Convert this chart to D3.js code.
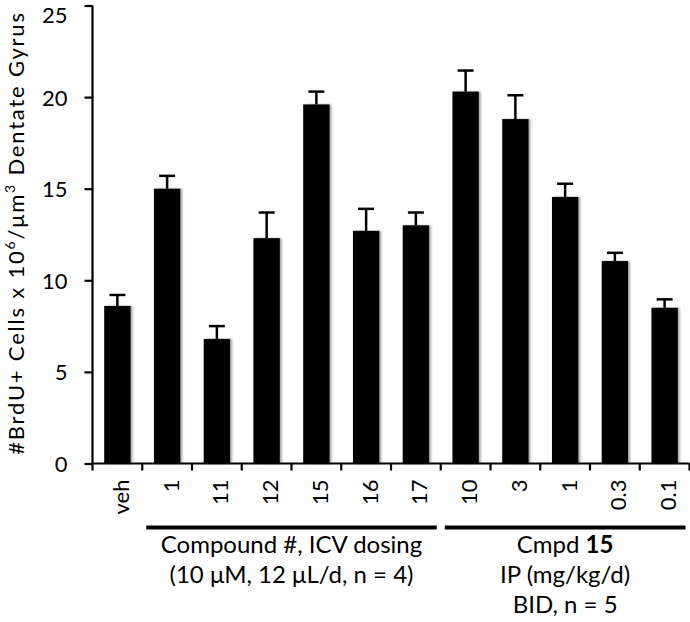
<!DOCTYPE html>
<html>
<head>
<meta charset="utf-8">
<script src="https://cdn.jsdelivr.net/npm/d3@7"></script>
<style>
  body { margin: 0; background: #fff; }
  svg { display: block; font-family: Lato, "Open Sans", sans-serif; }
</style>
</head>
<body>
<svg id="chart" width="690" height="622"></svg>
<script>
const categories = ["veh", "1", "11", "12", "15", "16", "17", "10", "3", "1 ", "0.3", "0.1"];
const tickLabels = ["veh", "1", "11", "12", "15", "16", "17", "10", "3", "1", "0.3", "0.1"];
const values = [8.6, 15.0, 6.8, 12.3, 19.6, 12.7, 13.0, 20.3, 18.8, 14.55, 11.05, 8.5];
const errors = [0.6, 0.7, 0.7, 1.4, 0.7, 1.2, 0.7, 1.15, 1.3, 0.72, 0.45, 0.46];
const yTicks = [0, 5, 10, 15, 20, 25];
const groups = [
  { from: "1", to: "17", lines: [["Compound #, ICV dosing"], ["(10 \u03bcM, 12 \u03bcL/d, n = 4)"]] },
  { from: "10", to: "0.1", lines: [["Cmpd ", "15"], ["IP (mg/kg/d)"], ["BID, n = 5"]] }
];

const svg = d3.select("#chart");
const x0 = 92.5, x1 = 689.5, yTop = 5.5, yBot = 463.5;

const x = d3.scaleBand().domain(categories).range([x0, x1]).paddingInner(0.47).paddingOuter(0.235);
const y = d3.scaleLinear().domain([0, 25]).range([yBot, yTop]);

// shadow filter
const defs = svg.append("defs");
const f = defs.append("filter").attr("id", "sh").attr("x", "-20%").attr("width", "150%");
f.append("feGaussianBlur").attr("in", "SourceAlpha").attr("stdDeviation", 1.2);
f.append("feOffset").attr("dx", 2).attr("dy", 0).attr("result", "b");
f.append("feComponentTransfer").append("feFuncA").attr("type", "linear").attr("slope", 0.35);
const m = f.append("feMerge");
m.append("feMergeNode");
m.append("feMergeNode").attr("in", "SourceGraphic");

// bars
svg.append("g").selectAll("rect").data(categories).join("rect")
  .attr("x", d => x(d))
  .attr("width", x.bandwidth())
  .attr("y", (d, i) => y(values[i]))
  .attr("height", (d, i) => yBot - y(values[i]))
  .attr("fill", "#000")
  .attr("filter", "url(#sh)");

// error bars
const eg = svg.append("g").attr("stroke", "#000").attr("stroke-width", 2.5);
categories.forEach((c, i) => {
  const cx = x(c) + x.bandwidth() / 2;
  eg.append("line").attr("x1", cx).attr("x2", cx).attr("y1", y(values[i])).attr("y2", y(values[i] + errors[i]));
  eg.append("line").attr("x1", cx - 8).attr("x2", cx + 8).attr("y1", y(values[i] + errors[i])).attr("y2", y(values[i] + errors[i]));
});

// y axis
const ya = svg.append("g").attr("transform", `translate(${x0},0)`)
  .call(d3.axisLeft(y).tickValues(yTicks).tickSize(8).tickPadding(17).tickFormat(d3.format("d")));
ya.select(".domain").attr("stroke-width", 2.2).attr("d", `M0,${yTop}V${yBot}`);
ya.selectAll(".tick line").attr("stroke-width", 2.2);
ya.selectAll(".tick text").attr("font-size", 22).attr("font-family", "Lato, sans-serif").attr("fill", "#000")
  .attr("dy", d => d === 25 ? "0.75em" : "0.36em");

// x axis
const bandStep = x.step();
const xa = svg.append("g").attr("transform", `translate(0,${yBot})`);
xa.append("line").attr("x1", x0).attr("x2", x1).attr("stroke", "#000").attr("stroke-width", 2.2);
const bounds = [x0].concat(categories.map(c => x(c) + x.bandwidth() / 2 + bandStep / 2));
xa.selectAll("line.t").data(bounds).join("line").attr("class", "t")
  .attr("x1", d => d).attr("x2", d => d).attr("y1", 0).attr("y2", 7)
  .attr("stroke", "#000").attr("stroke-width", 2.2);
xa.selectAll("text").data(categories).join("text")
  .attr("transform", (d, i) => `translate(${x(d) + x.bandwidth() / 2 + 3},${16}) rotate(-90)`)
  .attr("text-anchor", "end").attr("dominant-baseline", "central")
  .attr("font-size", 22).attr("fill", "#000")
  .text((d, i) => tickLabels[i]);

// group lines and labels
groups.forEach(g => {
  const lx1 = x(g.from) - (bandStep - x.bandwidth()) / 2 + 4;
  const lx2 = x(g.to) + x.bandwidth() + (bandStep - x.bandwidth()) / 2 - 4;
  svg.append("line").attr("x1", lx1).attr("x2", lx2).attr("y1", 527.5).attr("y2", 527.5)
    .attr("stroke", "#000").attr("stroke-width", 4);
  const cx = (lx1 + lx2) / 2;
  g.lines.forEach((ln, k) => {
    const t = svg.append("text").attr("x", cx).attr("y", 553 + k * 30)
      .attr("text-anchor", "middle").attr("font-size", 24).attr("fill", "#000");
    ln.forEach((s, j) => t.append("tspan").attr("font-weight", j === 1 ? "bold" : null).text(s));
  });
});

// y axis title
const yt = svg.append("text").attr("transform", `translate(24,233) rotate(-90)`)
  .attr("text-anchor", "middle").attr("font-size", 22).attr("letter-spacing", 1.8).attr("fill", "#000");
yt.append("tspan").text("#BrdU+ Cells x 10");
yt.append("tspan").attr("font-size", 14).attr("dy", -9).text("6");
yt.append("tspan").attr("dy", 9).text("/\u03bcm");
yt.append("tspan").attr("font-size", 14).attr("dy", -9).text("3");
yt.append("tspan").attr("dy", 9).text(" Dentate Gyrus");
</script>
</body>
</html>
